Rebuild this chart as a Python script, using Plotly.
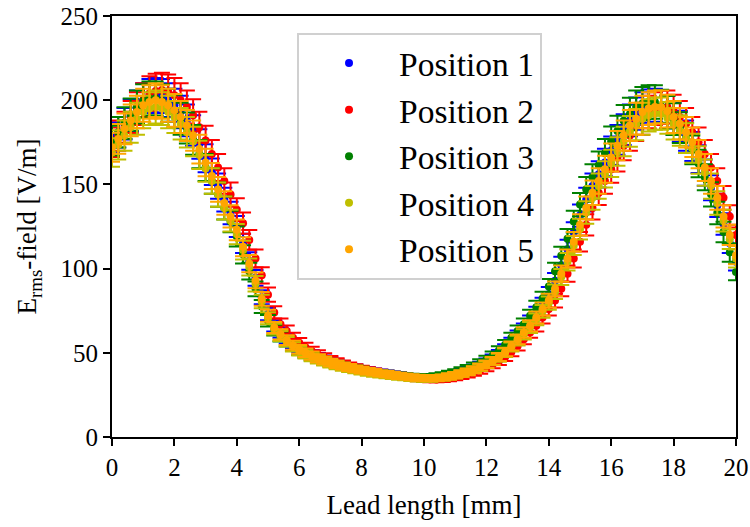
import plotly.graph_objects as go

lead_length = [round(0.2 * i, 1) for i in range(101)]

pos1 = [178, 181, 186, 191, 196, 200, 202.5, 203, 202.5, 200,
        197, 193, 188, 182, 174, 165.5, 157.5, 149, 141, 133,
        125, 115, 104.5, 94.5, 83, 73, 66, 62, 58.3, 55.3,
        52.8, 50.7, 49, 47.5, 46.1, 44.9, 43.8, 42.8, 41.9, 41.0,
        40.2, 39.5, 38.8, 38.2, 37.6, 37.1, 36.6, 36.1, 35.7, 35.4,
        35.2, 35.1, 35.3, 35.8, 36.5, 37.4, 38.4, 39.6, 41.0, 42.5,
        44.4, 46.6, 49.2, 52.5, 56.2, 60.2, 64.2, 68.7, 73.7, 78.7,
        84.8, 92.8, 102, 111.5, 121.5, 131.5, 141, 149, 156, 163,
        170, 176.5, 182.5, 188, 192, 195, 196.5, 197, 196, 193,
        189, 184.5, 179, 172.5, 165, 157, 148, 137.5, 126.5, 115,
        104]

pos2 = [175, 179, 184, 190, 195, 200, 204, 205.5, 206, 205,
        203, 200, 196, 191, 184, 176, 168, 160, 152, 144,
        135, 127, 117, 106, 96, 84.5, 74, 67, 63, 59,
        56, 53.3, 51, 49, 47.3, 45.8, 44.5, 43.3, 42.2, 41.2,
        40.3, 39.5, 38.8, 38.1, 37.5, 36.9, 36.3, 35.8, 35.3, 34.9,
        34.5, 34.3, 34.2, 34.4, 34.8, 35.4, 36.2, 37.2, 38.3, 39.6,
        41.1, 43, 45, 47.5, 50.5, 54, 58, 62, 66, 71,
        76, 81, 88, 97, 106, 116, 126, 136, 145, 152,
        159, 166, 173, 179, 185, 189, 193, 195, 196, 196,
        193.5, 190, 186, 181, 175, 168, 160, 152, 142, 131,
        120]

pos3 = [176, 181, 186.5, 191.5, 196, 199.5, 201, 201, 199.5, 197,
        193.5, 189, 183.5, 176.5, 168, 160, 152, 144, 136, 128,
        119, 108.5, 98.5, 88, 77.5, 69, 63.5, 59.7, 56.5, 53.7,
        51.3, 49.5, 47.8, 46.4, 45.2, 44.0, 43.0, 42.0, 41.2, 40.4,
        39.7, 39.0, 38.4, 37.9, 37.4, 36.9, 36.5, 36.1, 35.8, 35.6,
        35.5, 35.6, 36.0, 36.6, 37.4, 38.3, 39.4, 40.7, 42.2, 44.0,
        46.0, 48.3, 51.3, 54.8, 58.9, 63, 67, 72, 77, 82.2,
        89.3, 98.5, 107.6, 117.7, 127.9, 138, 147, 154.3, 161.4, 168.5,
        175.6, 181.7, 187.8, 191.8, 195.9, 198, 199, 199, 196.4, 192.9,
        188.8, 183.7, 177.6, 170.5, 162.4, 154.3, 144.1, 133, 121.8, 109.6,
        98]

pos4 = [169, 173.5, 179, 184, 189, 193, 195, 196, 195, 193,
        190, 186, 181, 175.5, 167.5, 159.5, 152, 144, 136, 128.5,
        120.5, 111, 101, 91, 80.5, 70.5, 64, 60, 56.5, 53.5,
        51, 49, 47.4, 46, 44.7, 43.5, 42.4, 41.4, 40.6, 39.8,
        39, 38.3, 37.7, 37.2, 36.7, 36.2, 35.8, 35.4, 35.0, 34.7,
        34.6, 34.6, 34.8, 35.2, 35.8, 36.6, 37.5, 38.6, 39.8, 41.2,
        42.9, 44.8, 47.1, 50, 53.4, 57.2, 61, 65, 69.8, 74.6,
        79.5, 86.3, 95, 104, 113.7, 123.5, 133.3, 142, 149, 156,
        162.5, 169.5, 175.5, 181.5, 185.5, 189, 191, 192, 192, 189.5,
        186, 182, 177.5, 171.5, 164.5, 157, 149, 139, 128.5, 117.5,
        106]

pos5 = [172, 177, 183, 188, 193, 197, 199, 200, 199, 197,
        194, 190, 185, 179, 171, 163, 155, 147, 139, 131,
        123, 113, 103, 93, 82, 72, 65, 61, 57.5, 54.5,
        52, 50, 48.3, 46.8, 45.5, 44.3, 43.2, 42.2, 41.3, 40.5,
        39.7, 39.0, 38.4, 37.8, 37.3, 36.8, 36.3, 35.9, 35.5, 35.2,
        35.0, 34.9, 35.0, 35.4, 36.0, 36.8, 37.7, 38.8, 40.0, 41.5,
        43.2, 45.2, 47.5, 50.5, 54, 58, 62, 66, 71, 76,
        81, 88, 97, 106, 116, 126, 136, 145, 152, 159,
        166, 173, 179, 185, 189, 193, 195, 196, 196, 193.5,
        190, 186, 181, 175, 168, 160, 152, 142, 131, 120,
        108]

series_names = ["Position 1", "Position 2", "Position 3", "Position 4", "Position 5"]
series_values = [pos1, pos2, pos3, pos4, pos5]
series_colors = ["#0000ff", "#ff0000", "#008000", "#bfbf00", "#ffa500"]
error_percent = 5

x_ticks = [0, 2, 4, 6, 8, 10, 12, 14, 16, 18, 20]
y_ticks = [0, 50, 100, 150, 200, 250]

FONT = "Liberation Serif"

fig = go.Figure()
for name, vals, col in zip(series_names, series_values, series_colors):
    fig.add_trace(go.Scatter(
        x=lead_length, y=vals, name=name, mode="markers",
        marker=dict(color=col, size=8),
        error_y=dict(type="percent", value=error_percent, color=col,
                     thickness=2, width=8),
    ))

fig.update_layout(
    width=750, height=527,
    margin=dict(l=112, r=14, t=16, b=90),
    paper_bgcolor="white", plot_bgcolor="white",
    font=dict(family=FONT, color="black", size=25),
    showlegend=True,
    legend=dict(
        x=0.2965, y=0.96, xanchor="left", yanchor="top",
        bgcolor="white", bordercolor="#d0d0d0", borderwidth=2,
        font=dict(family=FONT, size=33.5, color="black"),
        itemwidth=90,
    ),
)
fig.update_xaxes(
    range=[0, 20], tickvals=x_ticks, ticktext=[str(t) for t in x_ticks],
    automargin=False,
    showgrid=False, zeroline=False,
    showline=True, linecolor="black", linewidth=2, mirror=True,
    ticks="outside", ticklen=7, tickwidth=1.5, tickcolor="black",
    tickfont=dict(family=FONT, size=25),
    title=dict(text="Lead length [mm]", font=dict(family=FONT, size=27), standoff=15),
)
fig.update_yaxes(
    range=[0, 250], tickvals=y_ticks, ticktext=[str(t) for t in y_ticks],
    automargin=False,
    showgrid=False, zeroline=False,
    showline=True, linecolor="black", linewidth=2, mirror=True,
    ticks="outside", ticklen=7, tickwidth=1.5, tickcolor="black",
    tickfont=dict(family=FONT, size=25),
    title=dict(text="E<sub>rms</sub>-field [V/m]", font=dict(family=FONT, size=27), standoff=16),
)

fig.write_html("out.html")
